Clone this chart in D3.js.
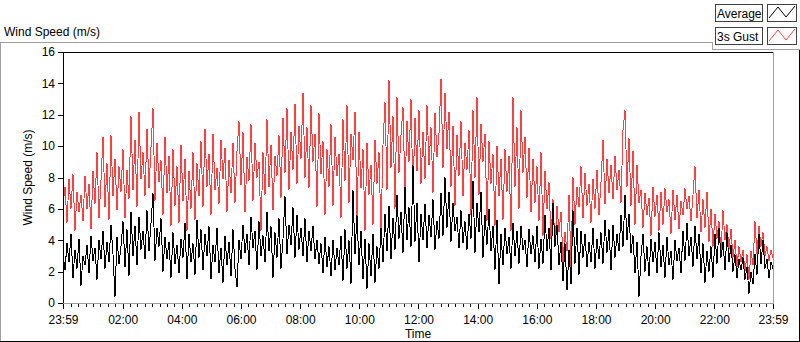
<!DOCTYPE html>
<html>
<head>
<meta charset="utf-8">
<script src="https://cdn.jsdelivr.net/npm/d3@7"></script>
<style>
  body { margin: 0; background: #fff; }
  text { font-family: "Liberation Sans", Arial, sans-serif; font-size: 12px; fill: #000; }
</style>
</head>
<body>
<div id="chart"></div>
<script>
// series names + colours (legend order)
const seriesNames = ["Average", "3s Gust"];
const seriesColors = ["#000000", "#ff4040"];

// y ticks and x tick labels
const yTicks = [0, 2, 4, 6, 8, 10, 12, 14, 16];
const xTickLabels = ["23:59", "02:00", "04:00", "06:00", "08:00", "10:00", "12:00",
                     "14:00", "16:00", "18:00", "20:00", "22:00", "23:59"];

// wind speed (m/s), evenly sampled over 24 h from 23:59
const average = [
  3.2, 2.1, 3.8, 2.6, 4.4, 1.6, 3.4, 2.2, 4.1, 1.1,
  3.0, 2.4, 3.7, 1.9, 4.3, 2.7, 3.5, 1.5, 4.0, 2.8,
  4.6, 2.2, 3.9, 2.6, 5.0, 3.1, 0.4, 4.2, 2.5, 3.6,
  5.2, 2.3, 4.7, 1.7, 5.8, 3.0, 4.9, 2.4, 5.5, 3.4,
  4.6, 2.8, 5.9, 3.3, 5.1, 7.0, 2.7, 4.8, 3.6, 5.4,
  2.0, 4.2, 2.8, 3.9, 1.6, 4.5, 2.5, 3.7, 1.9, 4.1,
  2.9, 5.1, 1.5, 4.4, 2.6, 3.8, 1.8, 5.3, 2.9, 4.7,
  2.1, 4.4, 3.0, 4.9, 1.5, 3.7, 2.6, 4.8, 1.9, 3.5,
  1.3, 4.3, 2.4, 3.9, 1.7, 4.7, 2.2, 1.0, 4.0, 2.8,
  5.0, 3.2, 4.4, 2.4, 5.5, 3.5, 4.6, 2.1, 5.2, 3.0,
  4.3, 2.6, 5.8, 3.3, 4.9, 1.6, 4.5, 2.9, 5.4, 2.2,
  4.1, 6.8, 3.1, 5.0, 3.7, 6.1, 2.9, 5.6, 3.4, 4.8,
  3.0, 5.4, 2.6, 4.6, 3.3, 4.9, 2.8, 4.0, 2.5, 3.8,
  1.9, 4.2, 2.3, 3.6, 1.7, 4.0, 2.1, 3.5, 2.4, 4.3,
  1.4, 4.7, 2.2, 4.0, 1.2, 7.2, 3.1, 5.6, 2.4, 4.6,
  1.5, 4.1, 0.9, 3.8, 1.7, 4.4, 1.3, 3.6, 2.2, 4.8,
  2.6, 5.7, 3.3, 6.2, 2.8, 5.4, 3.4, 6.9, 4.1, 5.8,
  3.2, 7.4, 4.0, 6.1, 3.6, 8.8, 3.9, 6.4, 2.6, 5.7,
  4.0, 6.3, 3.5, 5.6, 4.2, 6.6, 3.4, 5.2, 4.1, 7.0,
  4.3, 8.0, 4.8, 7.1, 3.9, 6.4, 4.6, 5.5, 3.5, 5.9,
  3.8, 5.2, 3.4, 5.7, 4.1, 7.8, 3.2, 6.4, 4.5, 7.1,
  2.9, 5.6, 3.7, 6.0, 3.3, 4.9, 2.1, 5.3, 1.2, 4.4,
  2.4, 4.8, 3.1, 4.2, 2.2, 5.1, 3.0, 4.6, 2.5, 4.9,
  3.4, 4.0, 2.3, 4.7, 3.1, 4.3, 2.6, 4.9, 2.2, 4.1,
  2.5, 5.6, 3.3, 4.8, 2.1, 6.4, 3.6, 5.0, 2.4, 3.9,
  1.4, 3.8, 0.8, 3.4, 1.2, 5.9, 2.5, 4.8, 1.8, 4.6,
  2.9, 4.4, 2.3, 3.9, 2.6, 4.8, 2.2, 4.1, 2.8, 4.5,
  2.5, 5.3, 3.2, 4.7, 2.1, 5.0, 2.9, 4.4, 3.3, 5.6,
  3.6, 6.9, 4.0, 5.7, 3.2, 4.3, 1.9, 3.9, 0.4, 3.0,
  4.4, 2.0, 3.6, 1.7, 4.1, 2.6, 3.9, 1.9, 4.5, 2.3,
  3.7, 1.6, 4.2, 2.4, 3.3, 1.5, 4.0, 2.7, 3.5, 1.9,
  4.6, 2.7, 5.1, 3.0, 4.2, 2.3, 4.9, 2.8, 4.4, 1.9,
  3.8, 1.3, 3.3, 2.0, 3.6, 1.6, 4.4, 2.5, 4.8, 2.9,
  3.9, 2.1, 4.5, 2.6, 3.7, 2.0, 3.1, 1.6, 2.8, 2.1,
  2.9, 1.5, 2.3, 0.6, 2.0, 1.2, 3.1, 1.8, 4.4, 2.5,
  4.0, 2.2, 2.8, 1.6, 2.6, 2.2
];

const gust = [
  6.2, 7.4, 5.1, 7.9, 6.0, 8.2, 4.6, 7.1, 5.8, 6.9,
  5.2, 8.1, 6.0, 7.6, 4.7, 8.4, 6.3, 9.6, 5.4, 7.8,
  10.6, 6.1, 8.9, 5.3, 10.7, 6.8, 9.2, 5.9, 8.7, 7.1,
  9.8, 5.4, 8.5, 6.6, 11.9, 7.2, 10.4, 6.1, 12.2, 7.9,
  9.6, 6.8, 11.1, 7.3, 9.9, 12.4, 6.5, 10.2, 7.7, 9.1,
  5.6, 10.6, 7.0, 9.4, 4.9, 9.8, 6.2, 8.7, 5.1, 10.1,
  6.5, 9.2, 4.6, 8.4, 6.0, 9.6, 5.3, 8.9, 6.8, 10.3,
  6.1, 11.1, 7.4, 9.5, 5.6, 10.8, 7.2, 8.6, 6.3, 10.4,
  7.9, 9.9, 5.8, 9.1, 7.0, 10.2, 6.4, 9.7, 11.6, 7.5,
  10.9, 5.8, 9.3, 7.8, 11.4, 6.5, 10.2, 8.0, 9.0, 4.6,
  9.6, 6.9, 11.7, 7.4, 10.1, 5.9, 9.4, 8.1, 10.7, 6.7,
  11.8, 8.3, 12.4, 7.2, 10.9, 8.5, 12.7, 7.6, 11.3, 9.2,
  13.4, 8.0, 11.2, 7.3, 12.6, 9.0, 10.8, 6.1, 12.1, 8.2,
  10.3, 5.6, 9.8, 7.4, 11.4, 6.2, 10.6, 8.1, 9.5, 5.4,
  11.7, 7.8, 12.6, 6.4, 10.8, 9.1, 12.2, 5.2, 10.9, 7.3,
  9.8, 4.6, 10.2, 6.9, 8.8, 5.0, 10.4, 7.6, 9.6, 4.4,
  10.1, 12.8, 7.2, 14.2, 8.6, 11.9, 6.0, 13.1, 8.3, 10.7,
  12.5, 7.0, 11.6, 9.0, 13.0, 6.8, 11.8, 8.4, 12.3, 7.6,
  10.9, 7.9, 12.6, 8.8, 11.2, 7.0, 12.1, 9.3, 10.8, 14.3,
  8.6, 13.4, 9.8, 12.2, 7.4, 11.3, 6.2, 10.7, 8.1, 11.6,
  6.8, 10.2, 8.5, 11.0, 5.6, 12.3, 8.0, 13.1, 6.9, 11.4,
  9.0, 10.8, 5.2, 10.3, 7.6, 9.5, 4.9, 10.0, 6.8, 9.2,
  5.3, 9.8, 7.1, 9.4, 4.6, 13.1, 7.4, 11.2, 6.0, 12.3,
  8.3, 10.6, 6.7, 9.9, 5.8, 9.2, 6.4, 8.7, 5.2, 9.6,
  4.3, 8.4, 6.0, 7.7, 4.1, 6.6, 3.6, 6.2, 4.5, 5.8,
  2.6, 4.5, 3.3, 6.9, 2.3, 8.0, 5.0, 7.4, 6.1, 8.7,
  5.4, 8.3, 6.2, 7.6, 5.1, 7.9, 6.0, 8.5, 5.6, 7.7,
  10.4, 6.3, 9.2, 7.0, 8.8, 6.6, 9.4, 7.2, 8.5, 6.4,
  11.0, 12.3, 7.4, 10.5, 6.2, 9.7, 5.0, 8.8, 6.4, 7.2,
  4.8, 7.0, 5.6, 6.7, 4.3, 7.4, 5.5, 6.9, 4.6, 7.1,
  5.0, 7.3, 5.8, 6.6, 4.4, 7.2, 5.3, 6.9, 4.7, 6.5,
  5.6, 7.3, 6.0, 6.8, 5.2, 6.9, 8.7, 5.4, 7.2, 4.5,
  6.6, 4.8, 7.1, 3.9, 6.0, 3.6, 5.7, 4.1, 5.2, 3.3,
  5.9, 4.0, 5.0, 3.4, 4.7, 2.9, 4.0, 2.3, 3.6, 2.6,
  3.4, 2.0, 3.1, 1.5, 3.3, 2.4, 5.2, 3.1, 4.9, 3.6,
  4.5, 3.0, 3.6, 2.7, 3.4, 2.9
];

const W = 800, H = 342;
const plot = { left: 63, top: 52, right: 773, bottom: 303 };

const svg = d3.select("#chart").append("svg")
    .attr("width", W)
    .attr("height", H);

const t0 = new Date(2000, 0, 1, 23, 59);
const t1 = new Date(2000, 0, 2, 23, 59);

const x = d3.scaleTime().domain([t0, t1]).range([plot.left, plot.right]);
const y = d3.scaleLinear().domain([0, 16]).range([plot.bottom, plot.top]);

// time of each sample
function timeAt(i, n) {
    return new Date(+t0 + (t1 - t0) * i / (n - 1));
}

// outer frame (sunken look: grey top/left, black bottom/right)
const frame = svg.append("g").attr("shape-rendering", "crispEdges");
frame.append("path").attr("fill", "none").attr("stroke", "#a0a0a0")
    .attr("d", "M0.5,341 V42.5 H712.5 V49.5 H800");
frame.append("path").attr("fill", "none").attr("stroke", "#000")
    .attr("d", "M799.5,50 V341.5 H0");

// chart title
svg.append("text").attr("x", 4).attr("y", 36).text("Wind Speed (m/s)");

// legend
const legend = svg.append("g").attr("shape-rendering", "crispEdges");
seriesNames.forEach((name, i) => {
    const top = 4 + i * 23;
    legend.append("rect")
        .attr("x", 715.5).attr("y", top + 0.5)
        .attr("width", 47).attr("height", 17)
        .attr("fill", "#fff").attr("stroke", "#404040");
    legend.append("text")
        .attr("x", 717).attr("y", top + 14)
        .text(name);
    legend.append("rect")
        .attr("x", 767.5).attr("y", top + 0.5)
        .attr("width", 29).attr("height", 17)
        .attr("fill", "#fff").attr("stroke", "#404040");
    legend.append("path")
        .attr("fill", "none")
        .attr("stroke", seriesColors[i])
        .attr("shape-rendering", "auto")
        .attr("d", d3.line()([[769, top + 14], [778, top + 3], [786, top + 13], [795, top + 2]]));
});

// y axis
svg.append("g")
    .attr("transform", `translate(${plot.left},0)`)
    .call(d3.axisLeft(y).tickValues(yTicks).tickSize(5).tickPadding(3))
    .call(g => g.select(".domain").remove())
    .call(g => g.selectAll("text").style("font-size", "12px").attr("font-family", null))
    .attr("shape-rendering", "crispEdges");

// x axis: minor ticks every 15 min, major ticks + labels every 2 h
const minorTicks = d3.timeMinute.every(15).range(t0, t1);
const majorTicks = [t0].concat(d3.timeHour.every(2).range(new Date(2000, 0, 2, 1, 0), t1), [t1]);

svg.append("g")
    .attr("transform", `translate(0,${plot.bottom + 1})`)
    .call(d3.axisBottom(x).tickValues(minorTicks).tickSize(3).tickFormat(""))
    .call(g => g.select(".domain").remove())
    .attr("shape-rendering", "crispEdges");

svg.append("g")
    .attr("transform", `translate(0,${plot.bottom + 1})`)
    .call(d3.axisBottom(x).tickValues(majorTicks).tickSize(5).tickPadding(6)
        .tickFormat((d, i) => xTickLabels[i]))
    .call(g => g.select(".domain").remove())
    .call(g => g.selectAll("text").style("font-size", "12px").attr("font-family", null))
    .attr("shape-rendering", "crispEdges");

// axis titles
svg.append("text")
    .attr("transform", `translate(32,${(plot.top + plot.bottom) / 2}) rotate(-90)`)
    .attr("text-anchor", "middle")
    .text("Wind Speed (m/s)");

svg.append("text")
    .attr("x", (plot.left + plot.right) / 2)
    .attr("y", 338)
    .attr("text-anchor", "middle")
    .text("Time");

// data lines
svg.append("defs").append("clipPath").attr("id", "clip")
    .append("rect")
    .attr("x", plot.left).attr("y", plot.top)
    .attr("width", plot.right - plot.left).attr("height", plot.bottom - plot.top);

const line = d3.line()
    .x((d, i, arr) => x(timeAt(i, arr.length)))
    .y(d => y(d));

// gust first, average drawn on top; aliased like the original
const plotG = svg.append("g").attr("clip-path", "url(#clip)");
[gust, average].forEach((series, k) => {
    plotG.append("path")
        .datum(series)
        .attr("fill", "none")
        .attr("stroke", k === 0 ? seriesColors[1] : seriesColors[0])
        .attr("stroke-width", 1)
        .attr("shape-rendering", "crispEdges")
        .attr("d", line);
});

// plot frame: black top/left, grey bottom/right
const pf = svg.append("g").attr("shape-rendering", "crispEdges").attr("fill", "none");
pf.append("path").attr("stroke", "#000")
    .attr("d", `M${plot.left + 0.5},${plot.bottom} V${plot.top + 0.5} H${plot.right}`);
pf.append("path").attr("stroke", "#a0a0a0")
    .attr("d", `M${plot.right + 0.5},${plot.top} V${plot.bottom + 0.5} H${plot.left}`);
</script>
</body>
</html>
